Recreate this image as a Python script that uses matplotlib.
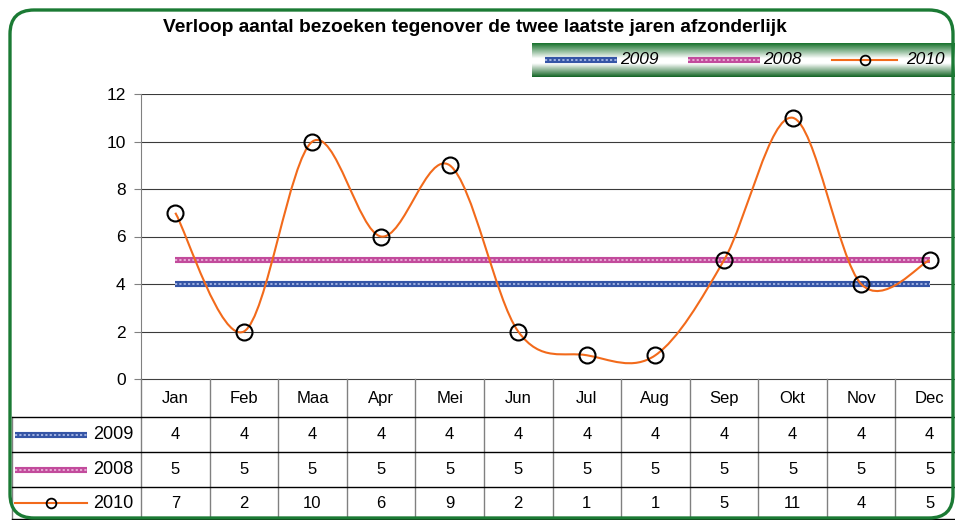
import numpy as np
import matplotlib
matplotlib.use("Agg")
import matplotlib.pyplot as plt
from matplotlib.patches import FancyBboxPatch
from matplotlib.path import Path as MPath
from matplotlib.patches import PathPatch

plt.rcParams["font.family"] = ["Liberation Sans", "DejaVu Sans"]

# data
months = ["Jan", "Feb", "Maa", "Apr", "Mei", "Jun",
          "Jul", "Aug", "Sep", "Okt", "Nov", "Dec"]
visits_2009 = [4, 4, 4, 4, 4, 4, 4, 4, 4, 4, 4, 4]
visits_2008 = [5, 5, 5, 5, 5, 5, 5, 5, 5, 5, 5, 5]
visits_2010 = [7, 2, 10, 6, 9, 2, 1, 1, 5, 11, 4, 5]
series_names = ["2009", "2008", "2010"]
title = "Verloop aantal bezoeken tegenover de twee laatste jaren afzonderlijk"

W, H = 955, 520
BLUE, BLUE_HI = "#3555a6", "#a9b8e6"
PINK, PINK_HI = "#c24b9c", "#eab0d8"
ORANGE = "#f26a1b"
GREEN = "#1b7a34"


def smooth_path(xs, ys):
    """Excel-like smoothed line: Catmull-Rom segments as cubic Beziers."""
    pts = np.column_stack([xs, ys]).astype(float)
    ext = np.vstack([pts[0], pts, pts[-1]])
    verts, codes = [tuple(pts[0])], [MPath.MOVETO]
    for i in range(1, len(ext) - 2):
        p0, p1, p2, p3 = ext[i - 1], ext[i], ext[i + 1], ext[i + 2]
        verts += [tuple(p1 + (p2 - p0) / 6), tuple(p2 - (p3 - p1) / 6), tuple(p2)]
        codes += [MPath.CURVE4] * 3
    return MPath(verts, codes)


def hatched(ax, x, y, base, hi, **kw):
    ax.plot(x, y, color=base, lw=4.4, solid_capstyle="butt", **kw)
    ax.plot(x, y, color=hi, lw=1.3, dashes=(1.2, 1.2), **kw)


fig = plt.figure(figsize=(W / 100, H / 100), dpi=100)

# main chart
ax = fig.add_axes([141 / W, (H - 379) / H, 823 / W, 285 / H])
ax.set_xlim(-0.5, 11.5)
ax.set_ylim(0, 12)
ax.set_yticks(range(0, 13, 2))
ax.set_xticks([])
for y in range(2, 13, 2):
    ax.axhline(y, color="#3a3a3a", lw=0.8, zorder=1)
for s in ["top", "right"]:
    ax.spines[s].set_visible(False)
ax.spines["left"].set_color("#808080")
ax.spines["bottom"].set_color("#404040")
ax.tick_params(axis="y", length=5, color="#808080", labelsize=12.5, pad=6)

x = np.arange(len(months))
hatched(ax, x, visits_2009, BLUE, BLUE_HI, zorder=2)
hatched(ax, x, visits_2008, PINK, PINK_HI, zorder=2)
ax.add_patch(PathPatch(smooth_path(x, visits_2010), fill=False,
                       ec=ORANGE, lw=1.5, zorder=3))
ax.plot(x, visits_2010, ls="none", marker="o", ms=11.5, mfc="none",
        mec="black", mew=1.5, zorder=4, clip_on=False)

# data table below the chart, sharing the month columns
row_edges = [0, 38, 73, 108, 140]
tab = fig.add_axes([141 / W, (H - 519) / H, 823 / W, 140 / H])
tab.set_xlim(-0.5, 11.5)
tab.set_ylim(140, 0)
tab.axis("off")
left_x = -0.5 - 129 / 68.6
for k in range(len(months) + 1):
    tab.plot([k - 0.5, k - 0.5], [0, 140], color="#808080", lw=1, clip_on=False)
tab.plot([left_x, left_x], [38, 140], color="#808080", lw=1, clip_on=False)
for yy in row_edges[1:]:
    tab.plot([left_x, 11.5], [yy, yy], color="black", lw=1, clip_on=False)
for i, m in enumerate(months):
    tab.text(i, 18, m, ha="center", va="center_baseline", fontsize=12)
for r, vals in enumerate([visits_2009, visits_2008, visits_2010]):
    yc = (row_edges[r + 1] + row_edges[r + 2]) / 2
    for i, v in enumerate(vals):
        tab.text(i, yc, str(v), ha="center", va="center", fontsize=12)

# overlay in pixel units: frame, title, legend strip, row keys
ov = fig.add_axes([0, 0, 1, 1], zorder=10)
ov.set_xlim(0, W)
ov.set_ylim(H, 0)
ov.axis("off")
ov.patch.set_alpha(0)

ov.text(475, 28, title, ha="center", va="center", fontsize=13.8,
        fontweight="bold")

# legend strip with green gradient
t = np.linspace(0, 1, 60)
g0 = np.array([0.10, 0.45, 0.18])
g1 = np.array([0.08, 0.40, 0.15])
wt = np.clip(np.minimum(t / 0.45, (1 - t) / 0.4), 0, 1)[:, None]
top = t[:, None] < 0.5
col = np.where(top, g0 * (1 - wt) + wt, g1 * (1 - wt) + wt)
ov.imshow(col[:, None, :].repeat(2, axis=1), extent=(532, W, 77, 43),
          aspect="auto", interpolation="bilinear", zorder=1)
ov.set_xlim(0, W)
ov.set_ylim(H, 0)


def key(x0, x1, yc, name):
    if name == "2009":
        hatched(ov, [x0, x1], [yc, yc], BLUE, BLUE_HI, zorder=2)
    elif name == "2008":
        hatched(ov, [x0, x1], [yc, yc], PINK, PINK_HI, zorder=2)
    else:
        ov.plot([x0, x1], [yc, yc], color=ORANGE, lw=1.5, zorder=2)
        ov.plot([(x0 + x1) / 2], [yc], marker="o", ms=7, mfc="none",
                mec="black", mew=1.3, zorder=3)


for (x0, x1, tx), name in zip([(545, 617, 620), (688, 760, 763), (832, 897, 906)],
                              series_names):
    key(x0, x1, 60, name)
    ov.text(tx, 60, name, ha="left", va="center", fontsize=12.5,
            style="italic", zorder=3)

for r, name in enumerate(series_names):
    yc = 379 + (row_edges[r + 1] + row_edges[r + 2]) / 2
    key(15, 87, yc, name)
    ov.text(133, yc, name, ha="right", va="center", fontsize=13)

ov.add_patch(FancyBboxPatch((10, 10), 943, 508,
                            boxstyle="round,pad=0,rounding_size=24",
                            fill=False, ec=GREEN, lw=2.4, zorder=5))

fig.savefig("out.png", dpi=100)
